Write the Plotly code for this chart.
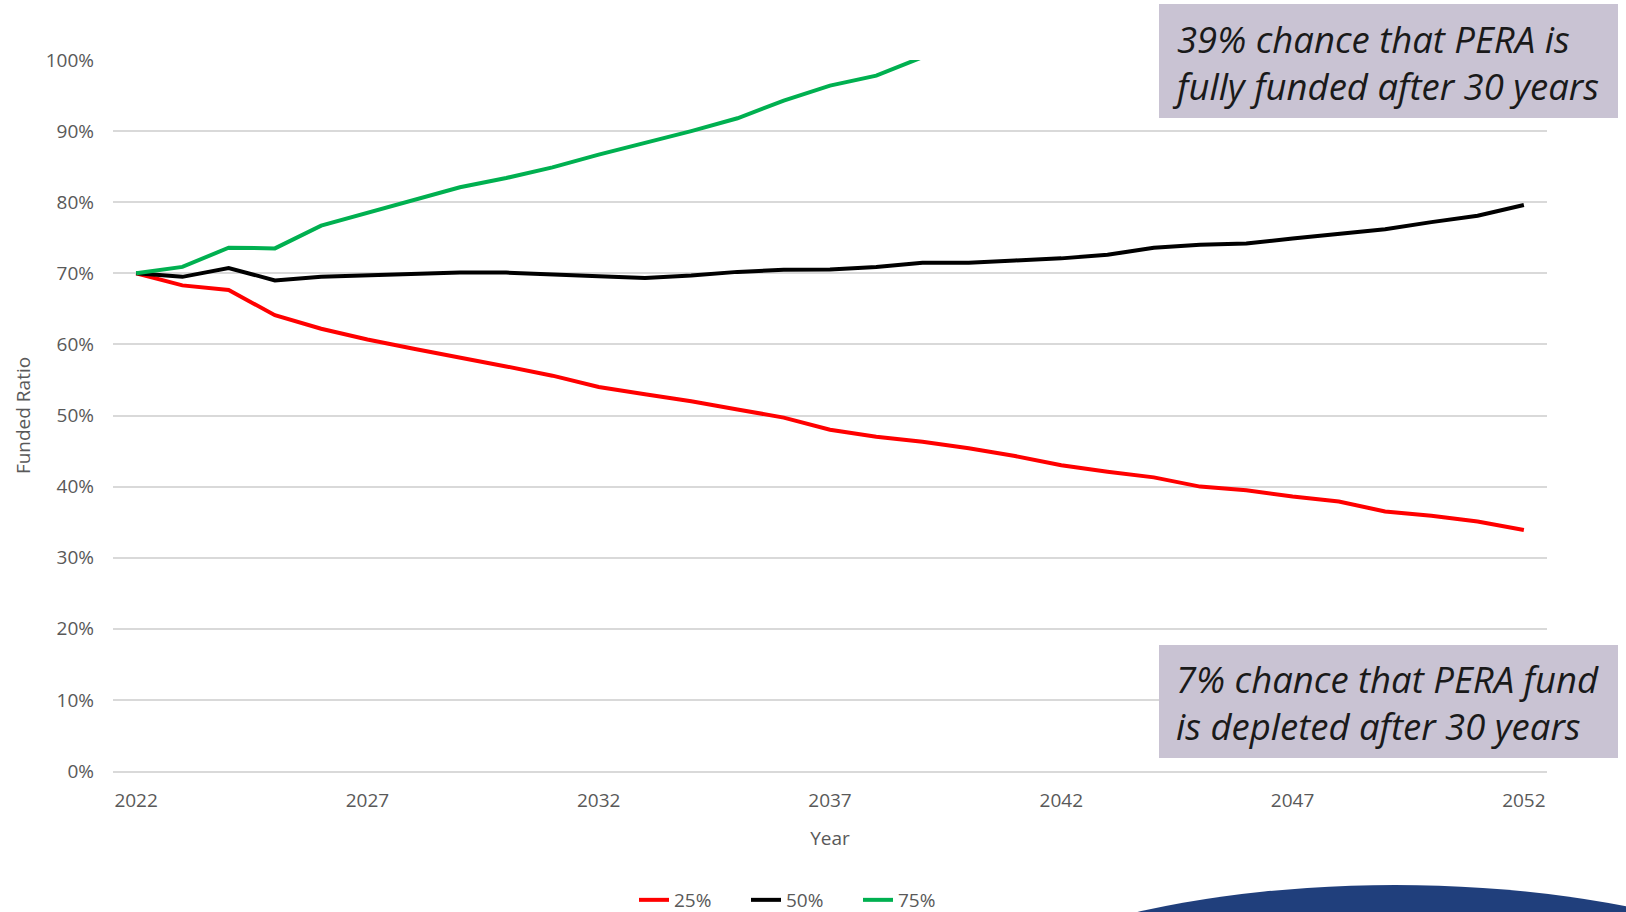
import plotly.graph_objects as go

years = list(range(2022, 2053))

p25 = [70.0, 68.3, 67.65, 64.1, 62.2, 60.7, 59.4, 58.2, 56.9, 55.6,
       54.0, 53.0, 52.0, 50.85, 49.7, 48.0, 47.0, 46.3, 45.4, 44.3,
       43.0, 42.1, 41.3, 40.0, 39.5, 38.6, 37.9, 36.5, 35.9, 35.1, 33.9]

p50 = [70.0, 69.5, 70.75, 69.0, 69.5, 69.7, 69.9, 70.1, 70.1, 69.9,
       69.6, 69.35, 69.7, 70.2, 70.5, 70.55, 70.9, 71.5, 71.5, 71.8,
       72.1, 72.6, 73.6, 74.0, 74.2, 74.9, 75.6, 76.2, 77.2, 78.1, 79.6]

p75 = [70.0, 70.9, 73.6, 73.5, 76.7, 78.5, 80.2, 82.1, 83.4, 84.9,
       86.7, 88.3, 90.0, 91.8, 94.3, 96.4, 97.8, 100.4, None, None,
       None, None, None, None, None, None, None, None, None, None, None]

series_names = ["25%", "50%", "75%"]
series_colors = ["#FF0000", "#000000", "#00B050"]

x_tickvals = [2022, 2027, 2032, 2037, 2042, 2047, 2052]
y_tickvals = [0, 10, 20, 30, 40, 50, 60, 70, 80, 90, 100]
y_ticktext = ["0%", "10%", "20%", "30%", "40%", "50%", "60%", "70%", "80%", "90%", "100%"]

note_top = "39% chance that PERA is<br>fully funded after 30 years"
note_bottom = "7% chance that PERA fund<br>is depleted after 30 years"

W, H = 1626, 912
L, R, T, B = 113, 79, 60, 141
pw = W - L - R
ph = H - T - B


def px_x(px):
    return (px - L) / pw


def px_y(py):
    return (H - B - py) / ph


fig = go.Figure()
for name, vals, col in zip(series_names, [p25, p50, p75], series_colors):
    fig.add_trace(go.Scatter(
        x=years, y=vals, name=name, mode="lines",
        line=dict(color=col, width=4),
        connectgaps=False,
    ))

tick_font = dict(family="'Open Sans', Lato, sans-serif", size=19, color="#595959")

fig.update_layout(
    width=W, height=H,
    margin=dict(l=L, r=R, t=T, b=B, pad=0, autoexpand=False),
    paper_bgcolor="white",
    plot_bgcolor="white",
    showlegend=True,
    legend=dict(
        orientation="h",
        x=634 / W, xref="container", xanchor="left",
        y=(H - 900) / H, yref="container", yanchor="middle",
        font=tick_font,
        bgcolor="rgba(0,0,0,0)",
        entrywidth=67, entrywidthmode="pixels",
    ),
    xaxis=dict(
        range=[2021.5, 2052.5],
        tickvals=x_tickvals,
        ticktext=[str(v) for v in x_tickvals],
        showgrid=False,
        zeroline=False,
        showline=True, linecolor="#D9D9D9", linewidth=1.5,
        ticks="",
        ticklabelstandoff=11,
        tickfont=tick_font,
        automargin=False,
        title=dict(text="Year", font=tick_font, standoff=20),
    ),
    yaxis=dict(
        range=[0, 100],
        tickvals=y_tickvals,
        ticktext=y_ticktext,
        showgrid=True, gridcolor="#D9D9D9", gridwidth=1.5,
        zeroline=False,
        showline=False,
        ticks="",
        ticklabelstandoff=18,
        tickfont=tick_font,
        automargin=False,
        title=dict(text="Funded Ratio", font=tick_font, standoff=10),
    ),
)

box_fill = "#C9C3D3"
fig.add_shape(type="rect", xref="paper", yref="paper",
              x0=px_x(1159), x1=px_x(1618), y0=px_y(118), y1=px_y(4),
              fillcolor=box_fill, line=dict(width=0), layer="above")
fig.add_shape(type="rect", xref="paper", yref="paper",
              x0=px_x(1159), x1=px_x(1618), y0=px_y(758), y1=px_y(645),
              fillcolor=box_fill, line=dict(width=0), layer="above")

# decorative navy arc at bottom right
fig.add_shape(type="circle", xref="paper", yref="paper",
              x0=px_x(945), x1=px_x(1845), y0=px_y(1185), y1=px_y(885),
              fillcolor="#203F7C", line=dict(width=0), layer="above")

note_font = dict(family="'Open Sans', Lato, sans-serif", size=36.5, color="#1A1A1A", style="italic")
fig.add_annotation(xref="paper", yref="paper", x=px_x(1170), y=px_y(62),
                   xanchor="left", yanchor="middle", align="left",
                   text=note_top, showarrow=False, font=note_font)
fig.add_annotation(xref="paper", yref="paper", x=px_x(1174), y=px_y(702),
                   xanchor="left", yanchor="middle", align="left",
                   text=note_bottom, showarrow=False, font=note_font)

fig.write_html("out.html",
               config={"displayModeBar": False},
               post_script="document.body.style.margin='0';document.body.style.overflow='hidden';")
